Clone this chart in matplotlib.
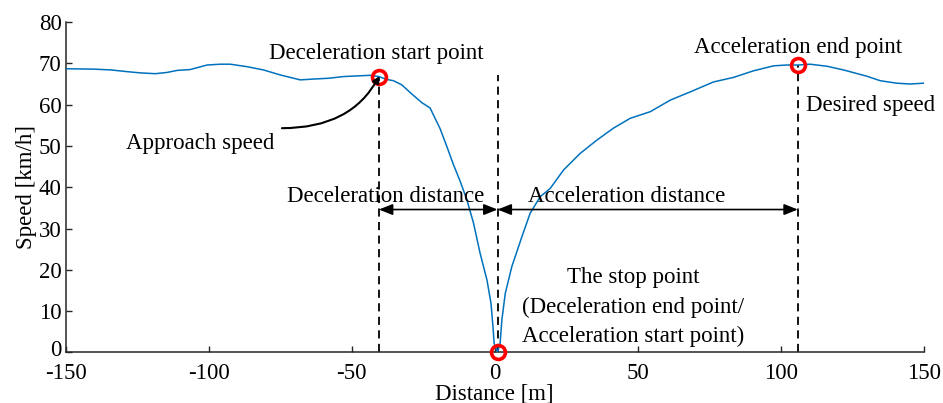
import matplotlib
matplotlib.use("Agg")
import matplotlib.pyplot as plt
from matplotlib.transforms import ScaledTranslation

plt.rcParams['font.family'] = ['Liberation Serif', 'DejaVu Serif']
plt.rcParams['font.size'] = 16.5

# Speed profile through a stop (distance in m, speed in km/h)
distance = [-150, -140, -134, -128.6, -124, -118.7, -114.6, -111, -106.5, -100.6,
            -96, -92.5, -86.6, -80.8, -75, -68, -63.4, -58, -53, -47,
            -43.5, -40.5, -37.7, -35.4, -32.5, -29.5, -25.5, -22.6, -19.1, -16.7,
            -14.5, -12.1, -9.7, -7.4, -5.1, -2.7, -1.3, -0.6, -0.2, 1.0,
            1.9, 2.5, 3.7, 6.0, 9.5, 12.4, 15.9, 19.4, 24.1, 29.9,
            35.7, 41.5, 47.4, 54.4, 61.4, 68.4, 76.5, 83.5, 90.5, 97.5,
            102, 106, 110.3, 116.2, 122, 130.1, 134.8, 140.6, 145.3, 150]
speed = [68.7, 68.6, 68.4, 68.0, 67.7, 67.5, 67.8, 68.3, 68.5, 69.6,
         69.8, 69.8, 69.2, 68.4, 67.2, 66.0, 66.2, 66.4, 66.8, 67.0,
         67.1, 66.8, 66.1, 65.8, 64.8, 62.9, 60.5, 59.2, 54.2, 49.8,
         45.6, 41.5, 36.9, 31.3, 24.0, 17.5, 11.9, 6.2, 2.2, 0.0,
         2.2, 7.8, 14.3, 20.8, 28.0, 33.7, 37.7, 39.7, 44.2, 48.2,
         51.4, 54.3, 56.7, 58.3, 61.1, 63.1, 65.5, 66.6, 68.2, 69.4,
         69.6, 69.6, 69.8, 69.3, 68.4, 66.9, 65.8, 65.2, 65.0, 65.2]

# Key points: deceleration start, stop point, acceleration end
key_names = ["Deceleration start point", "The stop point", "Acceleration end point"]
key_distance = [-40.5, 1.0, 106.0]
key_speed = [66.8, 0.0, 69.6]

arrow_speed = 34.6
x_ticks = [-150, -100, -50, 0, 50, 100, 150]
y_ticks = [0, 10, 20, 30, 40, 50, 60, 70, 80]

fig = plt.figure(figsize=(9.43, 4.03), dpi=100)
ax = fig.add_axes([0.0697, 0.1256, 0.9098, 0.8196])

ax.plot(distance, speed, color='#0072BD', lw=1.1, zorder=3)

# vertical dashed markers at key points
for xd, yd in zip(key_distance, key_speed):
    top = yd if yd > 1 else 67.2
    ax.plot([xd, xd], [0, top], color='black', lw=1.3,
            linestyle=(0, (4.5, 3)), zorder=2)

# red ring markers
ax.plot(key_distance, key_speed, linestyle='none', marker='o', ms=10,
        mfc='none', mec='red', mew=2.6, zorder=5, clip_on=False)

# distance arrows
arrow_kw = dict(arrowstyle='<|-|>,head_length=0.5,head_width=0.2',
                color='black', lw=1.2, shrinkA=0, shrinkB=0)
ax.annotate('', xy=(key_distance[0], arrow_speed),
            xytext=(key_distance[1], arrow_speed), arrowprops=arrow_kw)
ax.annotate('', xy=(key_distance[1], arrow_speed),
            xytext=(key_distance[2], arrow_speed), arrowprops=arrow_kw)

# approach speed callout
ax.annotate('', xy=(key_distance[0], key_speed[0]), xytext=(-74.4, 54.3),
            arrowprops=dict(arrowstyle='-|>,head_length=0.22,head_width=0.13',
                            color='black', lw=1.5, shrinkA=0, shrinkB=0,
                            connectionstyle='angle3,angleA=0,angleB=62'),
            zorder=6)

ax.text(-41.5, 71.0, key_names[0], ha='center', va='baseline')
ax.text(106.0, 72.4, key_names[2], ha='center', va='baseline')
ax.text(-103.1, 49.2, "Approach speed", ha='center', va='baseline')
ax.text(108.9, 58.5, "Desired speed", ha='left', va='baseline')
ax.text(-38.3, 36.5, "Deceleration distance", ha='center', va='baseline')
ax.text(46.0, 36.5, "Acceleration distance", ha='center', va='baseline')
ax.text(48.5, 16.7, key_names[1], ha='center', va='baseline')
ax.text(48.5, 9.5, "(Deceleration end point/", ha='center', va='baseline')
ax.text(48.5, 2.6, "Acceleration start point)", ha='center', va='baseline')

ax.set_xlim(-150, 150)
ax.set_ylim(0, 80)
ax.set_xticks(x_ticks)
ax.set_yticks(y_ticks)
ax.set_xticklabels([str(v) for v in x_ticks])
ax.set_yticklabels([str(v) for v in y_ticks])
ax.tick_params(direction='in', length=4, width=1.0, colors='#262626',
               labelcolor='black')
ax.tick_params(axis='x', pad=8)
ax.tick_params(axis='y', pad=3)
for side in ('top', 'right'):
    ax.spines[side].set_visible(False)
for side in ('left', 'bottom'):
    ax.spines[side].set_color('#262626')
    ax.spines[side].set_linewidth(1.1)

# lift the y-axis "0" label a little so it clears "-150"
zero_label = ax.get_yticklabels()[0]
zero_label.set_transform(zero_label.get_transform() +
                         ScaledTranslation(0, 3 / 72, fig.dpi_scale_trans))

ax.set_xlabel("Distance [m]", labelpad=-0.5)
ax.set_ylabel("Speed [km/h]", labelpad=1)

fig.savefig("out.png", dpi=100)
